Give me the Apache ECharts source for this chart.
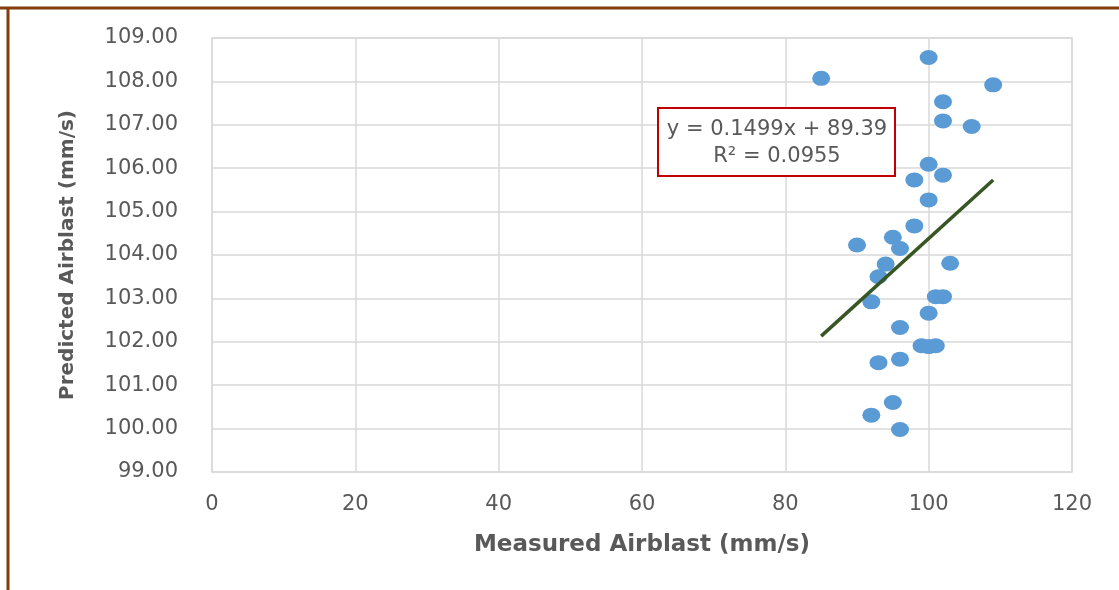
<!DOCTYPE html>
<html>
<head>
<meta charset="utf-8">
<script src="https://cdn.jsdelivr.net/npm/echarts@6/dist/echarts.min.js"></script>
<style>
html,body{margin:0;padding:0;background:#fff;}
#chart{width:1119px;height:590px;}
</style>
</head>
<body>
<div id="chart"></div>
<script>
// Measured airblast (mm/s)
const measured = [85, 100, 109, 102, 102, 106, 100, 98, 102, 100,
                  98, 95, 90, 96, 94, 93, 103, 92, 101, 102,
                  100, 96, 99, 100, 101, 96, 93, 95, 92, 96];
// Predicted airblast (mm/s)
const predicted = [108.07, 108.55, 107.92, 107.53, 107.09, 106.96, 106.09, 105.73, 105.84, 105.27,
                   104.67, 104.41, 104.23, 104.15, 103.79, 103.50, 103.81, 102.92, 103.04, 103.04,
                   102.66, 102.33, 101.91, 101.89, 101.91, 101.60, 101.52, 100.60, 100.31, 99.98];
// Linear trendline coefficients (as shown on chart)
const slope = 0.1499;
const intercept = 89.39;
const r2 = 0.0955;
const xTicks = [0, 20, 40, 60, 80, 100, 120];
const yTicks = [99, 100, 101, 102, 103, 104, 105, 106, 107, 108, 109];

const points = measured.map((x, i) => [x, predicted[i]]);
const xMin = Math.min(...measured), xMax = Math.max(...measured);
const trend = [[xMin, slope * xMin + intercept], [xMax, slope * xMax + intercept]];

const font = "'DejaVu Sans', sans-serif";
const chart = echarts.init(document.getElementById('chart'), null, {renderer: 'canvas'});
chart.setOption({
  animation: false,
  backgroundColor: '#ffffff',
  grid: {left: 212, right: 47, top: 38, bottom: 118, show: true, borderColor: '#D9D9D9', borderWidth: 1.5, backgroundColor: 'transparent'},
  xAxis: {
    type: 'value', min: xTicks[0], max: xTicks[xTicks.length - 1], interval: 20,
    name: 'Measured Airblast (mm/s)', nameLocation: 'middle', nameGap: 62,
    nameTextStyle: {fontFamily: font, fontWeight: 'bold', fontSize: 23, color: '#595959'},
    axisLine: {show: false}, axisTick: {show: false},
    axisLabel: {fontFamily: font, fontSize: 21, color: '#595959', margin: 22},
    splitLine: {show: true, lineStyle: {color: '#D9D9D9', width: 1.5}}
  },
  yAxis: {
    type: 'value', min: yTicks[0], max: yTicks[yTicks.length - 1], interval: 1,
    name: 'Predicted Airblast (mm/s)', nameLocation: 'middle', nameGap: 134,
    nameTextStyle: {fontFamily: font, fontWeight: 'bold', fontSize: 20, color: '#595959'},
    axisLine: {show: false}, axisTick: {show: false},
    axisLabel: {fontFamily: font, fontSize: 21, color: '#595959', margin: 34, formatter: v => v.toFixed(2)},
    splitLine: {show: true, lineStyle: {color: '#D9D9D9', width: 1.5}}
  },
  series: [
    {
      type: 'scatter', data: points, symbol: 'circle', symbolSize: [18, 15],
      itemStyle: {color: '#5B9BD5', opacity: 1}, z: 3
    },
    {
      type: 'line', data: trend, symbol: 'none', z: 4,
      lineStyle: {color: '#375623', width: 3.5}
    }
  ],
  graphic: [
    {type: 'line', shape: {x1: 0, y1: 8, x2: 1119, y2: 8}, style: {stroke: '#843C0C', lineWidth: 3}},
    {type: 'line', shape: {x1: 8, y1: 7, x2: 8, y2: 590}, style: {stroke: '#843C0C', lineWidth: 3}},
    {type: 'rect', shape: {x: 658, y: 108, width: 237, height: 68}, style: {fill: '#ffffff', stroke: '#C00000', lineWidth: 2}, z: 10},
    {type: 'text', x: 777, y: 130, z: 11, style: {
      text: 'y = ' + slope + 'x + ' + intercept,
      textAlign: 'center', textVerticalAlign: 'middle', fontFamily: font, fontSize: 21, fill: '#595959'
    }},
    {type: 'text', x: 777, y: 157, z: 11, style: {
      text: 'R² = ' + r2,
      textAlign: 'center', textVerticalAlign: 'middle', fontFamily: font, fontSize: 21, fill: '#595959'
    }}
  ]
});
</script>
</body>
</html>
